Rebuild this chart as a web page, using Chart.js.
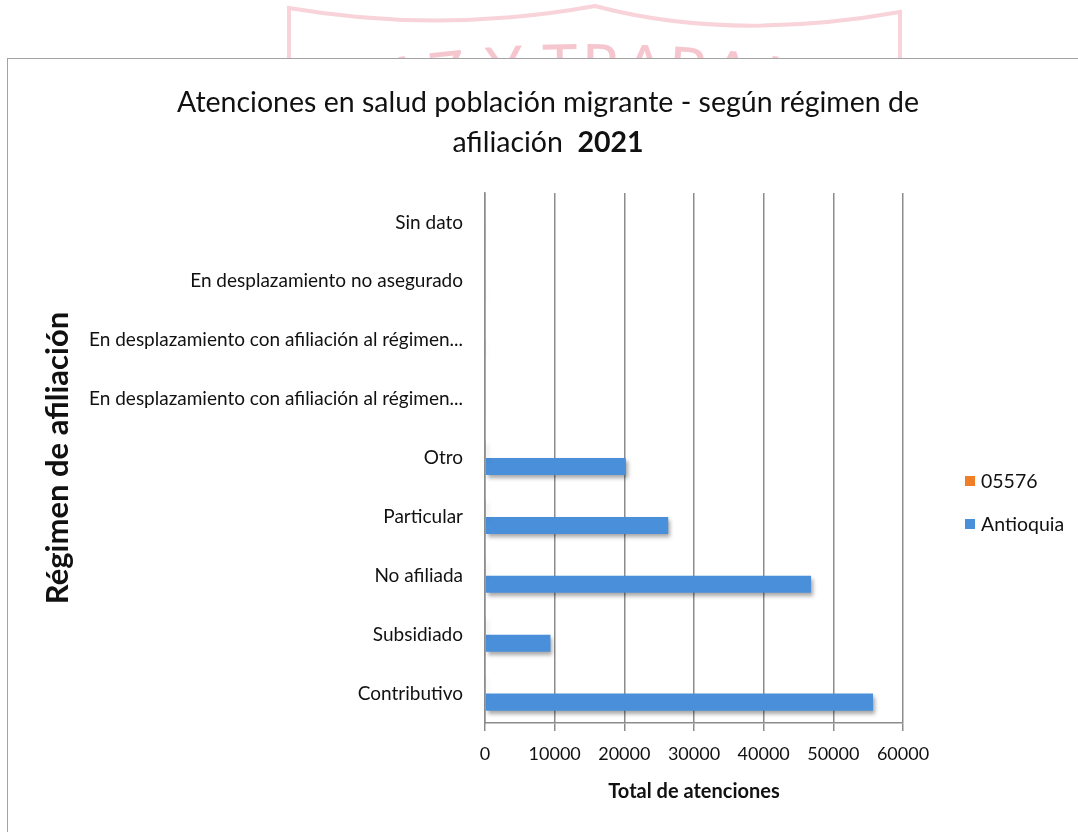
<!DOCTYPE html>
<html lang="es">
<head>
<meta charset="utf-8">
<title>Atenciones en salud población migrante 2021</title>
<script src="https://cdn.jsdelivr.net/npm/chart.js@4.4.1/dist/chart.umd.min.js"></script>
<style>
  html, body { margin: 0; padding: 0; background: #fff; overflow: hidden; }
  #sello { position: absolute; left: 0; top: 0; }
  #marco { position: absolute; left: 7px; top: 58px; width: 1120px; height: 820px;
           border: 1.5px solid #a3a3a3; background: #fff; }
  #grafico { position: absolute; left: 0; top: 0; }
</style>
</head>
<body>
<svg id="sello" width="1078" height="60" viewBox="0 0 1078 60">
  <defs>
    <path id="arcoTexto" d="M 330 112 Q 590 62 850 112" fill="none"/>
  </defs>
  <path d="M 289 60 L 289 8 Q 440 34 595 6 Q 730 42 900 12 L 900 60" fill="none" stroke="#f8d3d9" stroke-width="4"/>
  <text font-family="Lato, 'Open Sans', sans-serif" font-size="60" font-weight="400" fill="#f6c6ce">
    <textPath href="#arcoTexto" startOffset="50%" text-anchor="middle" textLength="480" lengthAdjust="spacing">PAZ Y TRABAJO</textPath>
  </text>
</svg>
<div id="marco"></div>
<canvas id="grafico" width="1078" height="832"></canvas>
<script>
const categorias = [
  'Sin dato',
  'En desplazamiento no asegurado',
  'En desplazamiento con afiliación al régimen...',
  'En desplazamiento con afiliación al régimen...',
  'Otro',
  'Particular',
  'No afiliada',
  'Subsidiado',
  'Contributivo'
];
const serieMunicipio = [0, 0, 0, 0, 10, 20, 40, 15, 60];
const serieAntioquia = [100, 120, 90, 110, 20200, 26300, 46800, 9400, 55700];
const ticksX = [0, 10000, 20000, 30000, 40000, 50000, 60000];

const FUENTE = "Lato, 'Open Sans', sans-serif";
const GRIS = '#8c8c8c';

// título en dos líneas, con el año en negrita
const tituloPlugin = {
  id: 'titulo',
  afterDraw(chart) {
    const ctx = chart.ctx;
    const cx = 548;
    ctx.save();
    ctx.fillStyle = '#111';
    ctx.textBaseline = 'middle';
    ctx.textAlign = 'center';
    ctx.font = '28.5px ' + FUENTE;
    ctx.fillText('Atenciones en salud población migrante - según régimen de', cx, 103);
    const parte1 = 'afiliación  ';
    const parte2 = '2021';
    const w1 = ctx.measureText(parte1).width;
    ctx.font = 'bold 28.5px ' + FUENTE;
    const w2 = ctx.measureText(parte2).width;
    const x0 = cx - (w1 + w2) / 2;
    ctx.textAlign = 'left';
    ctx.font = '28.5px ' + FUENTE;
    ctx.fillText(parte1, x0, 143);
    ctx.font = 'bold 28.5px ' + FUENTE;
    ctx.fillText(parte2, x0 + w1, 143);
    ctx.restore();
  }
};

// leyenda a la derecha
const leyendaPlugin = {
  id: 'leyenda',
  afterDraw(chart) {
    const ctx = chart.ctx;
    ctx.save();
    ctx.font = '19.5px ' + FUENTE;
    ctx.textBaseline = 'middle';
    chart.data.datasets.forEach((ds, i) => {
      const y = 481 + i * 43;
      ctx.fillStyle = ds.backgroundColor;
      ctx.fillRect(965, y - 5, 10, 10);
      ctx.fillStyle = '#111';
      ctx.fillText(ds.label, 981, y + 1);
    });
    ctx.restore();
  }
};

// sombra suave bajo las barras
const sombraPlugin = {
  id: 'sombra',
  beforeDatasetsDraw(chart) {
    const ctx = chart.ctx;
    ctx.save();
    ctx.shadowColor = 'rgba(0,0,0,0.35)';
    ctx.shadowBlur = 4;
    ctx.shadowOffsetX = 2;
    ctx.shadowOffsetY = 3;
  },
  afterDatasetsDraw(chart) {
    chart.ctx.restore();
  }
};

new Chart(document.getElementById('grafico'), {
  type: 'bar',
  data: {
    labels: categorias,
    datasets: [
      { label: '05576', data: serieMunicipio, backgroundColor: '#F07E26',
        categoryPercentage: 0.58, barPercentage: 1 },
      { label: 'Antioquia', data: serieAntioquia, backgroundColor: '#4A8FDA',
        categoryPercentage: 0.58, barPercentage: 1 }
    ]
  },
  options: {
    indexAxis: 'y',
    responsive: false,
    devicePixelRatio: 1,
    animation: false,
    layout: { padding: { top: 193, left: 30, right: 175, bottom: 20 } },
    plugins: { legend: { display: false }, tooltip: { enabled: false }, title: { display: false } },
    scales: {
      x: {
        min: 0,
        max: 60000,
        afterBuildTicks: s => { s.ticks = ticksX.map(v => ({ value: v })); },
        afterFit: s => { s.height = 89; },
        grid: { color: GRIS, lineWidth: 1.5, tickLength: 8 },
        border: { color: GRIS, width: 1.5 },
        ticks: { color: '#111', font: { family: FUENTE, size: 18 }, padding: 12, maxRotation: 0,
                 callback: v => String(v) },
        title: { display: true, text: 'Total de atenciones', color: '#111',
                 font: { family: FUENTE, size: 20, weight: 'bold' }, padding: { top: 0, bottom: 8 } }
      },
      y: {
        afterFit: s => { s.width = 455; },
        grid: { display: false },
        border: { color: GRIS, width: 1.5 },
        ticks: { color: '#111', font: { family: FUENTE, size: 19 }, padding: 14 },
        title: { display: true, text: 'Régimen de afiliación', color: '#111',
                 font: { family: FUENTE, size: 31, weight: 'bold' }, padding: 9 }
      }
    }
  },
  plugins: [sombraPlugin, tituloPlugin, leyendaPlugin]
});
</script>
</body>
</html>
